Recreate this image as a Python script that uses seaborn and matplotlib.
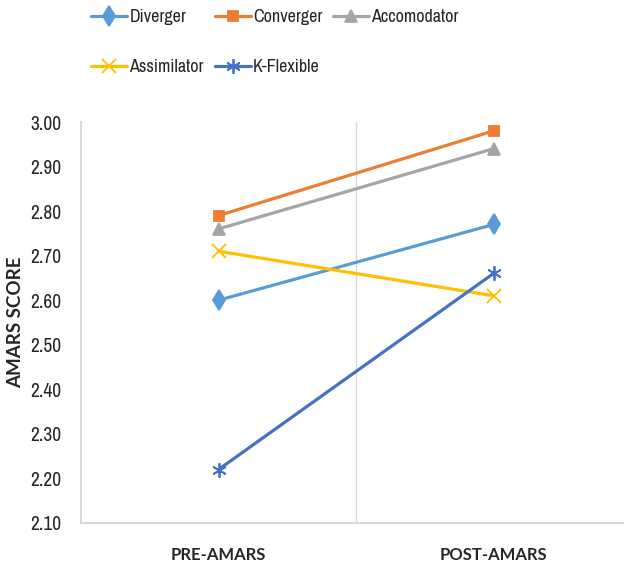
import matplotlib
matplotlib.use("Agg")
import matplotlib.pyplot as plt
from matplotlib import font_manager
import seaborn as sns
import pandas as pd

# Mean AMARS scores by learning style, before and after the programme
phases = ["PRE-AMARS", "POST-AMARS"]
styles = ["Diverger", "Converger", "Accomodator", "Assimilator", "K-Flexible"]
diverger = [2.60, 2.77]
converger = [2.79, 2.98]
accomodator = [2.76, 2.94]
assimilator = [2.71, 2.61]
k_flexible = [2.22, 2.66]
y_ticks = [2.10, 2.20, 2.30, 2.40, 2.50, 2.60, 2.70, 2.80, 2.90, 3.00]

series = [diverger, converger, accomodator, assimilator, k_flexible]
rows = []
for name, vals in zip(styles, series):
    for i, v in enumerate(vals):
        rows.append({"phase": i, "style": name, "score": v})
df = pd.DataFrame(rows)

sns.set_style("white")

# Prefer a narrow sans face for regular text if one is installed
names = sorted({f.name for f in font_manager.fontManager.ttflist})
narrow = [n for n in names if "Narrow" in n or "Condensed" in n]
family = narrow[0] if narrow else "Lato"
plt.rcParams["font.family"] = [family, "Lato", "DejaVu Sans"]
bold_font = ["Lato", "DejaVu Sans"]

palette = {
    "Diverger": "#5B9BD5",
    "Converger": "#ED7D31",
    "Accomodator": "#A5A5A5",
    "Assimilator": "#FFC000",
    "K-Flexible": "#4472C4",
}
markers = {
    "Diverger": "d",
    "Converger": "s",
    "Accomodator": "^",
    "Assimilator": "x",
    "K-Flexible": (6, 2, 0),
}
msizes = {"Diverger": 10, "Converger": 7.5, "Accomodator": 8.5,
          "Assimilator": 9.5, "K-Flexible": 10.5}

fig = plt.figure(figsize=(6.24, 5.69), dpi=100)
ax = fig.add_axes([81 / 624, 46 / 569, 550 / 624, 401 / 569])

for name in styles:
    c = palette[name]
    sns.lineplot(
        data=df[df["style"] == name], x="phase", y="score",
        color=c, marker=markers[name], markersize=msizes[name],
        markeredgecolor=c, markerfacecolor=c, markeredgewidth=1.3,
        linewidth=2.3, label=name, ax=ax,
    )

ax.set_xlim(-0.5, 1.5)
ax.set_ylim(2.10, 3.00)
ax.set_xticks([0, 1])
ax.set_xticklabels(phases, fontsize=12, fontweight="bold", family=bold_font,
                   color="#262626")
ax.set_yticks(y_ticks)
ax.set_yticklabels([f"{t:.2f}" for t in y_ticks], fontsize=14, color="#262626")
ax.tick_params(axis="y", length=0, pad=14)
ax.tick_params(axis="x", length=0, pad=17)
ax.set_xlabel("")
ax.set_ylabel("AMARS SCORE", fontsize=13.5, fontweight="bold", family=bold_font,
              color="#262626")
ax.yaxis.set_label_coords(-0.103, 0.5)

# Divider between the two phases
ax.axvline(0.5, color="#D9D9D9", linewidth=1.0, zorder=0)

for side in ["top", "right"]:
    ax.spines[side].set_visible(False)
for side in ["left", "bottom"]:
    ax.spines[side].set_color("#D9D9D9")
    ax.spines[side].set_linewidth(1.5)

handles, labels = ax.get_legend_handles_labels()
if ax.get_legend() is not None:
    ax.get_legend().remove()
lookup = dict(zip(labels, handles))
order = ["Diverger", "Assimilator", "Converger", "K-Flexible", "Accomodator"]
fig.legend(
    [lookup[k] for k in order], order,
    loc="upper left", bbox_to_anchor=(91 / 624, 1 - 9 / 569),
    ncol=3, frameon=False, fontsize=13,
    handlelength=2.0, handletextpad=0.12, columnspacing=0.6,
    labelspacing=1.9, borderaxespad=0, borderpad=0,
)

fig.savefig("out.png", dpi=100)
